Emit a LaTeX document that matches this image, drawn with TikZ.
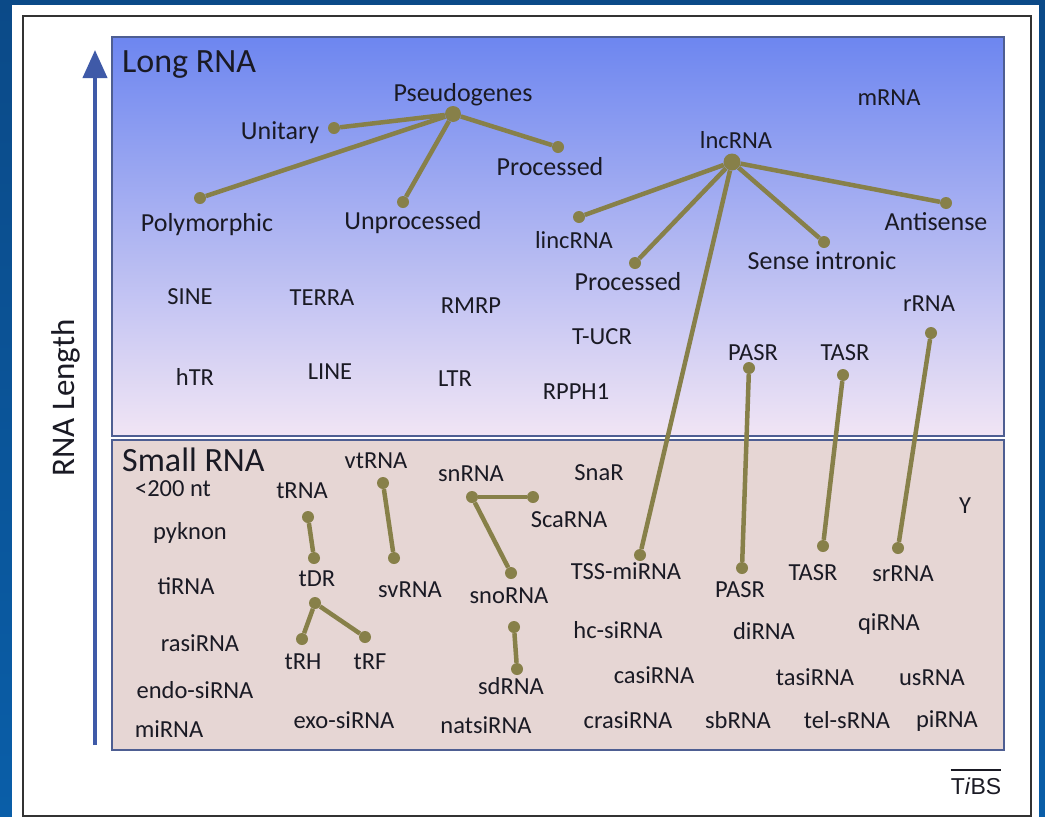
\documentclass[tikz,border=0pt]{standalone}
\usepackage{fontspec}
\setmainfont{Carlito}
\newfontfamily\tibsfont{Liberation Sans}
\usetikzlibrary{arrows.meta}
\definecolor{olv}{HTML}{878049}
\definecolor{txt}{HTML}{1A1A24}
\definecolor{bgblue}{HTML}{0A5EA8}
\definecolor{bgdark}{HTML}{0B4A88}
\definecolor{boxline}{HTML}{4E5E92}
\definecolor{longtop}{HTML}{6D86F0}
\definecolor{longmid}{HTML}{C1C9E3}
\definecolor{longbot}{HTML}{F1E5F4}
\definecolor{smallfill}{HTML}{E6D6D4}
\definecolor{arrowblue}{HTML}{3F5AA8}
\begin{document}
\begin{tikzpicture}[x=1pt,y=-1pt,
 lbl/.style={font=\fontsize{24.5}{29}\selectfont, text=txt, inner sep=0pt, anchor=base},
 lblb/.style={lbl, font=\fontsize{26}{31}\selectfont},
 ttl/.style={font=\fontsize{34}{40}\selectfont, text=txt, inner sep=0pt, anchor=base west},
 dot/.style={circle, fill=olv, inner sep=0pt, minimum size=12pt},
 hub/.style={dot, minimum size=16pt},
 conn/.style={draw=olv, line width=4.5pt},
]
\useasboundingbox (0,0) rectangle (1045,817);
% background and frame
\shade[top color=bgdark, bottom color=bgblue] (0,0) rectangle (1045,817);
\fill[white] (12,5) rectangle (1039,817);
\draw[line width=1.5pt, black!80] (23,16) rectangle (1031,816);
% boxes
\shade[top color=longtop, middle color=longmid, bottom color=longbot] (112,37) rectangle (1004,436);
\draw[boxline, line width=2pt] (112,37) rectangle (1004,436);
\fill[smallfill] (112,440) rectangle (1004,750);
\draw[boxline, line width=2pt] (112,440) rectangle (1004,750);
% axis arrow
\coordinate (abot) at (95,745);
\coordinate (atop) at (95,50);
\draw[arrowblue, line width=4pt, -{Triangle[width=24pt,length=28pt]}] (abot) -- (atop);
\node[font=\fontsize{33}{40}\selectfont, text=txt, rotate=90, anchor=base, inner sep=0pt] (axis) at (74,398) {RNA Length};
% titles
\node[ttl] (tlong) at (122,72) {Long RNA};
\node[ttl] (tsmall) at (122,471) {Small RNA};
% ---- Long RNA labels
\node[lblb] (Lpseudo) at (463,101) {Pseudogenes};
\node[lblb] (Lunit) at (280,139) {Unitary};
\node[lblb] (Lproc1) at (550,175) {Processed};
\node[lblb] (Lunproc) at (413,229) {Unprocessed};
\node[lblb] (Lpoly) at (207,231) {Polymorphic};
\node[lbl] (Llnc) at (736,148) {lncRNA};
\node[lbl] (Llinc) at (574,248) {lincRNA};
\node[lblb] (Lproc2) at (628,290) {Processed};
\node[lblb] (Lsense) at (822,269) {Sense intronic};
\node[lblb] (Lanti) at (936,230) {Antisense};
\node[lbl] (Lmrna) at (889,105) {mRNA};
\node[lbl] (Lsine) at (190,304) {SINE};
\node[lbl] (Lterra) at (322,305) {TERRA};
\node[lbl] (Lrmrp) at (471,313) {RMRP};
\node[lbl] (Ltucr) at (602,344) {T-UCR};
\node[lbl] (Lhtr) at (195,385) {hTR};
\node[lbl] (Lline) at (330,379) {LINE};
\node[lbl] (Lltr) at (455,386) {LTR};
\node[lbl] (Lrpph) at (576,399) {RPPH1};
\node[lbl] (Lpasr) at (753,360) {PASR};
\node[lbl] (Ltasr) at (845,360) {TASR};
\node[lbl] (Lrrna) at (929,311) {rRNA};
% ---- Small RNA labels
\node[lbl] (S200) at (173,496) {<200 nt};
\node[lbl] (Strna) at (302,498) {tRNA};
\node[lbl] (Svt) at (376,468) {vtRNA};
\node[lbl] (Ssn) at (471,481) {snRNA};
\node[lbl] (Ssnar) at (599,480) {SnaR};
\node[lbl] (Ssca) at (569,527) {ScaRNA};
\node[lbl] (Spyk) at (190,539) {pyknon};
\node[lbl] (Sy) at (965,513) {Y};
\node[lbl] (Stdr) at (317,586) {tDR};
\node[lbl] (Ssv) at (410,597) {svRNA};
\node[lbl] (Ssno) at (509,603) {snoRNA};
\node[lbl] (Stss) at (626,579) {TSS-miRNA};
\node[lbl] (Spasr) at (740,597) {PASR};
\node[lbl] (Stasr) at (813,580) {TASR};
\node[lbl] (Ssr) at (903,581) {srRNA};
\node[lbl] (Sti) at (186,594) {tiRNA};
\node[lbl] (Srasi) at (200,651) {rasiRNA};
\node[lbl] (Strh) at (303,669) {tRH};
\node[lbl] (Strf) at (370,669) {tRF};
\node[lbl] (Shc) at (618,638) {hc-siRNA};
\node[lbl] (Sdi) at (764,639) {diRNA};
\node[lbl] (Sqi) at (889,630) {qiRNA};
\node[lbl] (Sendo) at (195,698) {endo-siRNA};
\node[lbl] (Ssd) at (511,694) {sdRNA};
\node[lbl] (Scasi) at (654,683) {casiRNA};
\node[lbl] (Stasi) at (815,685) {tasiRNA};
\node[lbl] (Sus) at (932,685) {usRNA};
\node[lbl] (Smi) at (169,737) {miRNA};
\node[lbl] (Sexo) at (344,728) {exo-siRNA};
\node[lbl] (Snats) at (486,733) {natsiRNA};
\node[lbl] (Scrasi) at (628,728) {crasiRNA};
\node[lbl] (Ssb) at (738,728) {sbRNA};
\node[lbl] (Stel) at (847,728) {tel-sRNA};
\node[lbl] (Spi) at (947,727) {piRNA};
% ---- dots
\node[hub] (pg) at (453,114) {};
\node[dot] (pgU) at (334,128) {};
\node[dot] (pgP) at (558,147) {};
\node[dot] (pgN) at (403,202) {};
\node[dot] (pgM) at (200,198) {};
\node[hub, minimum size=17pt] (lnc) at (732,162) {};
\node[dot] (lncL) at (579,217) {};
\node[dot] (lncP) at (635,263) {};
\node[dot] (lncS) at (824,242) {};
\node[dot] (lncA) at (946,203) {};
\node[dot] (lncT) at (640,555) {};
\node[dot] (pasrT) at (749,368) {};
\node[dot] (pasrB) at (742,568) {};
\node[dot] (tasrT) at (843,375) {};
\node[dot] (tasrB) at (823,546) {};
\node[dot] (rrnaT) at (931,333) {};
\node[dot] (rrnaB) at (898,548) {};
\node[dot] (trnaT) at (308,517) {};
\node[dot] (trnaB) at (314,558) {};
\node[dot] (vtT) at (383,483) {};
\node[dot] (vtB) at (394,558) {};
\node[dot] (snH) at (472,497) {};
\node[dot] (snC) at (533,497) {};
\node[dot] (snO) at (511,573) {};
\node[dot] (tdH) at (315,603) {};
\node[dot] (tdR) at (302,639) {};
\node[dot] (tdF) at (365,637) {};
\node[dot] (sdT) at (514,627) {};
\node[dot] (sdB) at (517,669) {};
% ---- connectors
\draw[conn] (pg) -- (pgU);
\draw[conn] (pg) -- (pgP);
\draw[conn] (pg) -- (pgN);
\draw[conn] (pg) -- (pgM);
\draw[conn] (lnc) -- (lncL);
\draw[conn] (lnc) -- (lncP);
\draw[conn] (lnc) -- (lncS);
\draw[conn] (lnc) -- (lncA);
\draw[conn] (lnc) -- (lncT);
\draw[conn] (pasrT) -- (pasrB);
\draw[conn] (tasrT) -- (tasrB);
\draw[conn] (rrnaT) -- (rrnaB);
\draw[conn] (trnaT) -- (trnaB);
\draw[conn] (vtT) -- (vtB);
\draw[conn] (snH) -- (snC);
\draw[conn] (snH) -- (snO);
\draw[conn] (tdH) -- (tdR);
\draw[conn] (tdH) -- (tdF);
\draw[conn] (sdT) -- (sdB);
% TiBS
\node[font=\tibsfont\fontsize{23}{28}\selectfont, text=txt, inner sep=0pt, anchor=base] (tibs) at (976,794) {T\textit{i}BS};
\draw[txt, line width=1.3pt] ([yshift=7pt]tibs.north west) -- ([yshift=7pt]tibs.north east);
\end{tikzpicture}
\end{document}
